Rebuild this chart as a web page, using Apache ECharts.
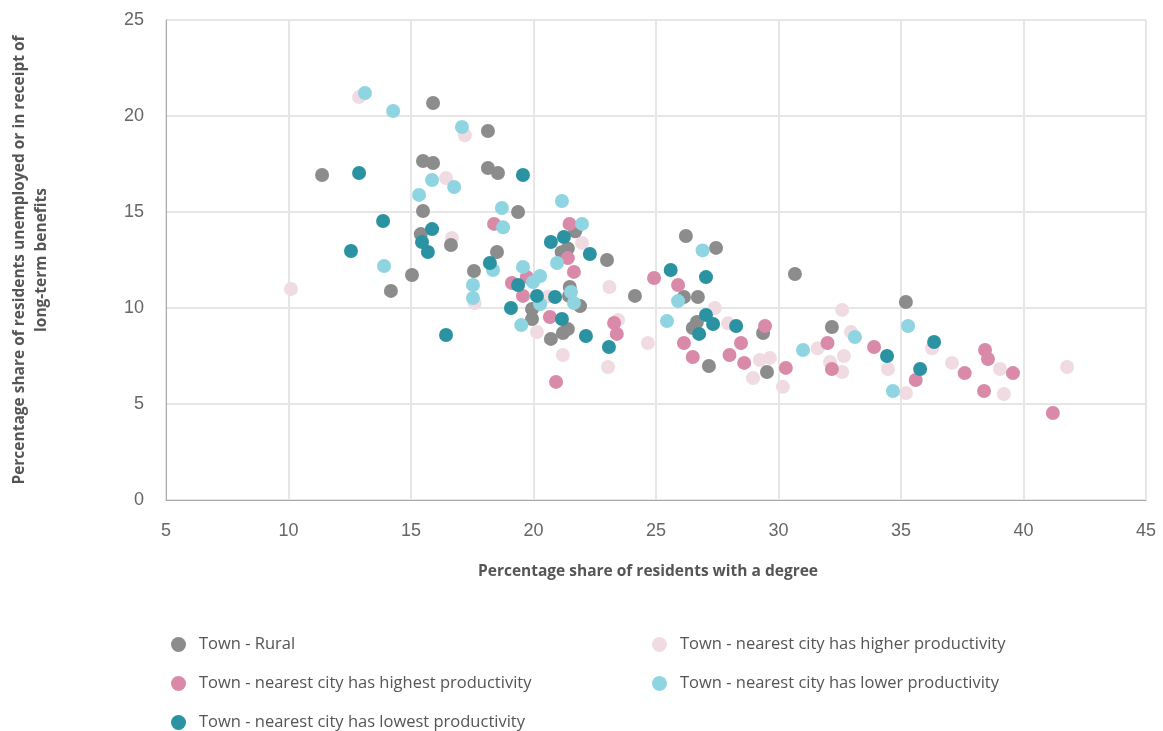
<!DOCTYPE html>
<html>
<head>
<meta charset="utf-8">
<script src="https://cdn.jsdelivr.net/npm/echarts@6/dist/echarts.min.js"></script>
<style>
  html, body { margin: 0; padding: 0; background: #fff; }
  #chart { width: 1163px; height: 731px; }
</style>
</head>
<body>
<div id="chart"></div>
<script>
// [degree share, unemployed/benefits share]
var rural = [
  [11.37, 16.93], [15.9, 20.68], [15.49, 17.66], [15.9, 17.55], [15.49, 15.05],
  [15.4, 13.85], [16.63, 13.28], [15.04, 11.72], [14.18, 10.89], [18.14, 19.22],
  [18.14, 17.29], [18.55, 17.03], [19.37, 15.0], [18.51, 12.92], [17.57, 11.93],
  [19.94, 9.95], [19.94, 9.43], [20.71, 8.39], [21.2, 8.7], [21.4, 8.9],
  [21.48, 11.09], [21.45, 10.63], [21.9, 10.1], [21.4, 13.1], [21.15, 12.9],
  [23.0, 12.5], [24.14, 10.63], [26.22, 13.75], [27.45, 13.13], [26.14, 10.57],
  [26.71, 10.57], [26.67, 9.27], [26.5, 8.96], [27.16, 6.98], [29.37, 8.7],
  [29.53, 6.67], [32.18, 9.01], [30.67, 11.77], [35.2, 10.31], [21.7, 14.0]
];
var higher = [
  [12.88, 20.99], [17.2, 19.0], [16.43, 16.77], [16.67, 13.65], [10.1, 10.99],
  [17.6, 10.26], [21.98, 13.39], [23.1, 11.09], [20.14, 8.75], [21.2, 7.55],
  [23.04, 6.93], [24.67, 8.18], [23.45, 9.38], [27.4, 10.0], [27.94, 9.2],
  [29.24, 7.29], [29.65, 7.4], [28.96, 6.35], [30.18, 5.9], [31.6, 7.9],
  [32.6, 9.9], [32.96, 8.75], [32.67, 7.5], [32.1, 7.19], [32.6, 6.67],
  [36.27, 7.9], [34.47, 6.82], [35.2, 5.57], [37.08, 7.14], [39.04, 6.82],
  [39.2, 5.52], [41.78, 6.93], [20.6, 10.6]
];
var highest = [
  [18.39, 14.38], [21.47, 14.38], [21.4, 12.6], [21.65, 11.88], [19.12, 11.3],
  [19.73, 11.61], [19.57, 10.63], [20.67, 9.53], [23.29, 9.22], [23.4, 8.65],
  [20.92, 6.15], [24.92, 11.56], [25.9, 11.2], [26.14, 8.18], [26.5, 7.45],
  [28.0, 7.55], [28.47, 8.18], [28.6, 7.14], [29.45, 9.06], [30.3, 6.88],
  [32.0, 8.18], [32.18, 6.82], [33.9, 7.97], [35.6, 6.25], [37.6, 6.61],
  [38.43, 7.81], [38.55, 7.34], [38.39, 5.68], [39.57, 6.61], [41.2, 4.53]
];
var lower = [
  [13.12, 21.2], [14.27, 20.26], [17.08, 19.43], [15.86, 16.67], [16.76, 16.3],
  [15.33, 15.89], [13.9, 12.19], [17.53, 11.2], [17.53, 10.52], [18.71, 15.21],
  [21.16, 15.57], [18.76, 14.2], [21.98, 14.38], [18.35, 11.98], [19.57, 12.14],
  [20.27, 11.67], [19.98, 11.35], [20.96, 12.34], [21.53, 10.83], [21.65, 10.26],
  [20.27, 10.2], [19.5, 9.11], [26.9, 13.0], [25.9, 10.36], [25.45, 9.32],
  [31.0, 7.81], [33.12, 8.49], [35.29, 9.06], [34.67, 5.68]
];
var lowest = [
  [12.88, 17.03], [13.86, 14.53], [15.86, 14.11], [15.45, 13.44], [15.69, 12.92],
  [12.55, 12.97], [16.43, 8.59], [19.57, 16.93], [20.71, 13.44], [21.24, 13.7],
  [22.3, 12.81], [18.22, 12.34], [19.37, 11.2], [20.14, 10.63], [20.88, 10.57],
  [19.08, 10.0], [21.16, 9.43], [22.14, 8.54], [23.08, 7.97], [25.6, 11.98],
  [27.04, 11.61], [27.04, 9.64], [27.33, 9.17], [26.76, 8.65], [28.27, 9.06],
  [34.43, 7.5], [36.35, 8.23], [35.78, 6.82]
];

var names = {
  rural: 'Town - Rural',
  higher: 'Town - nearest city has higher productivity',
  highest: 'Town - nearest city has highest productivity',
  lower: 'Town - nearest city has lower productivity',
  lowest: 'Town - nearest city has lowest productivity'
};
var colors = {
  rural: '#8c8c8c',
  higher: '#f0dbe3',
  highest: '#d98aa8',
  lower: '#8ed5e1',
  lowest: '#2b92a2'
};

var chart = echarts.init(document.getElementById('chart'));

var legendText = {
  color: '#555', fontSize: 16.5, fontFamily: 'Open Sans',
  lineHeight: 17, padding: [0, 0, 0, 8]
};

function dots(key, data) {
  return {
    name: names[key],
    type: 'scatter',
    symbolSize: 14,
    itemStyle: { color: colors[key], opacity: 1 },
    data: data
  };
}

chart.setOption({
  animation: false,
  grid: { left: 166, right: 17, top: 20, bottom: 231, outerBoundsMode: 'none' },
  legend: [
    {
      orient: 'vertical', left: 166, top: 631, height: 100, itemGap: 22,
      icon: 'circle', itemWidth: 15, itemHeight: 15,
      textStyle: legendText,
      data: [names.rural, names.highest, names.lowest]
    },
    {
      orient: 'vertical', left: 647, top: 631, height: 100, itemGap: 22,
      icon: 'circle', itemWidth: 15, itemHeight: 15,
      textStyle: legendText,
      data: [names.higher, names.lower]
    }
  ],
  xAxis: {
    type: 'value', min: 5, max: 45, interval: 5,
    name: 'Percentage share of residents with a degree',
    nameLocation: 'middle', nameGap: 64,
    nameTextStyle: { fontWeight: 'bold', fontSize: 15.5, color: '#555', fontFamily: 'Open Sans', padding: [0, 16, 0, 0] },
    axisLine: { show: true, lineStyle: { color: '#aaa', width: 1 } },
    axisTick: { show: false },
    splitLine: { show: true, lineStyle: { color: '#e6e6e6', width: 2 } },
    axisLabel: { color: '#666', fontSize: 18, fontFamily: 'Liberation Sans', margin: 22 }
  },
  yAxis: {
    type: 'value', min: 0, max: 25, interval: 5,
    name: 'Percentage share of residents unemployed or in receipt of\nlong-term benefits',
    nameLocation: 'middle', nameGap: 113,
    nameTextStyle: { fontWeight: 'bold', fontSize: 15.5, color: '#555', fontFamily: 'Open Sans', lineHeight: 22 },
    axisLine: { show: true, lineStyle: { color: '#aaa', width: 1 } },
    axisTick: { show: false },
    splitLine: { show: true, lineStyle: { color: '#e6e6e6', width: 2 } },
    axisLabel: { color: '#666', fontSize: 18, fontFamily: 'Liberation Sans', margin: 22 }
  },
  series: [
    dots('higher', higher),
    dots('rural', rural),
    dots('highest', highest),
    dots('lower', lower),
    dots('lowest', lowest)
  ]
});
</script>
</body>
</html>
